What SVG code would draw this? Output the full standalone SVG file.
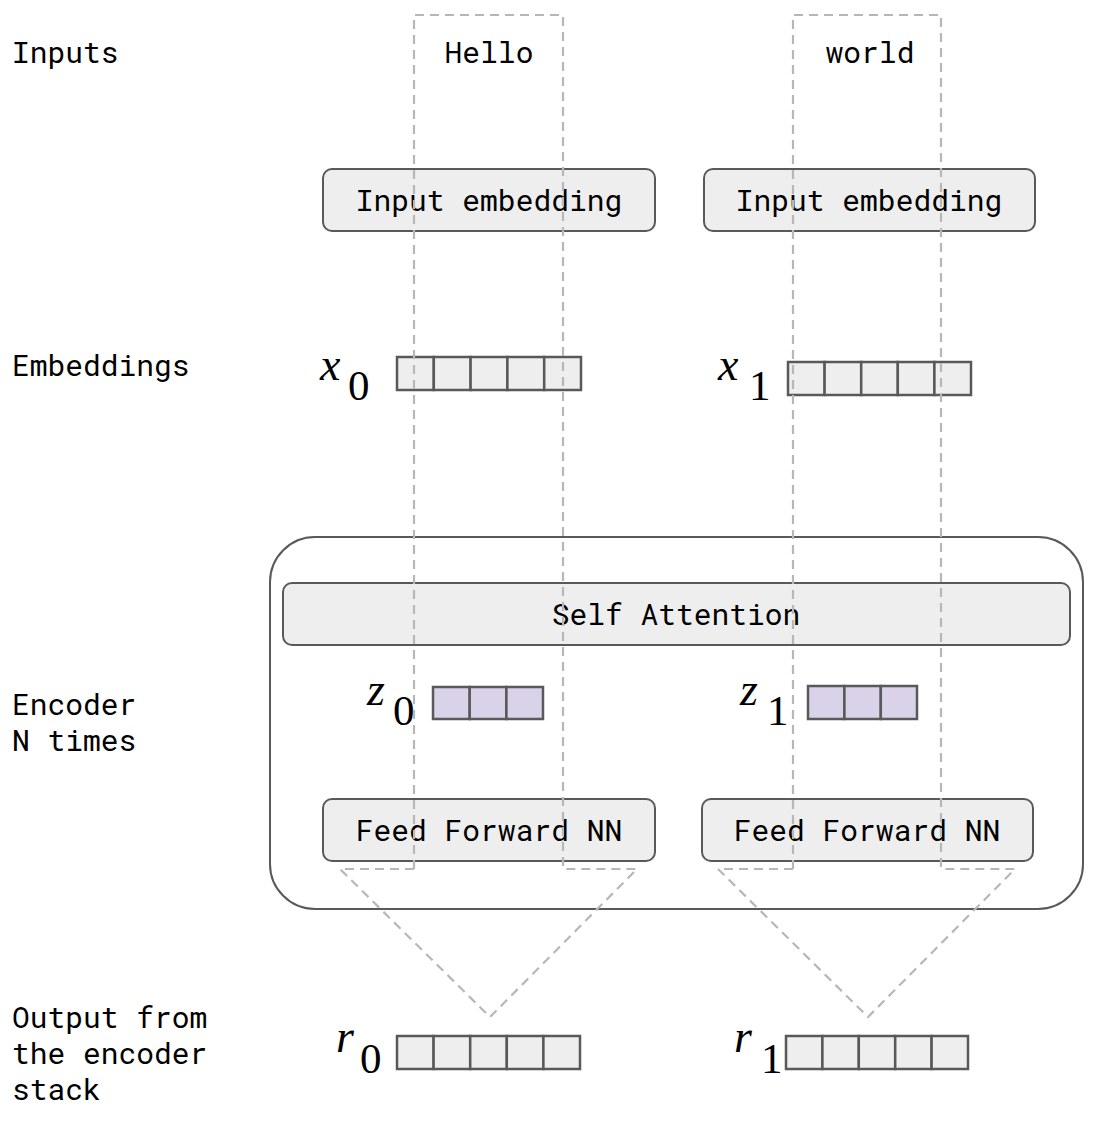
<svg xmlns="http://www.w3.org/2000/svg" width="1104" height="1136" viewBox="0 0 1104 1136">
<style>
.lbl{font-family:"Roboto Mono","DejaVu Sans Mono","Liberation Mono",monospace;font-size:29.6px;fill:#000}
.mid{text-anchor:middle}
.box{fill:#eeeeee;stroke:#595959;stroke-width:2}
.cell{fill:#eeeeee;stroke:#595959;stroke-width:2.5}
.zcell{fill:#d9d2e9;stroke:#595959;stroke-width:2.5}
.math{font-family:"Liberation Serif","Times New Roman",serif;font-size:46px;fill:#000}
.sub{font-size:43px}
.it{font-style:italic}
.dash{fill:none;stroke:#b7b7b7;stroke-width:2.2;stroke-dasharray:9 6}
</style>
<rect width="1104" height="1136" fill="#fff"/>
<g id="row-labels">
<text class="lbl" x="12" y="63">Inputs</text>
<text class="lbl" x="12" y="376">Embeddings</text>
<text class="lbl" x="12" y="715">Encoder</text>
<text class="lbl" x="12" y="751">N times</text>
<text class="lbl" x="12" y="1028">Output from</text>
<text class="lbl" x="12" y="1064">the encoder</text>
<text class="lbl" x="12" y="1100">stack</text>
</g>
<g id="input-hello"><text class="lbl mid" x="489" y="63">Hello</text></g>
<g id="input-world"><text class="lbl mid" x="870" y="63">world</text></g>
<g id="embed-0"><rect class="box" x="323" y="169" width="332" height="62" rx="9"/><text class="lbl mid" x="489" y="211">Input embedding</text></g>
<g id="embed-1"><rect class="box" x="704" y="169" width="331" height="62" rx="9"/><text class="lbl mid" x="869" y="211">Input embedding</text></g>
<g id="x0">
<text class="math it" x="320" y="380">x</text><text class="math sub" x="348" y="400">0</text>
<rect class="cell" x="397" y="357" width="36.8" height="33"/><rect class="cell" x="433.8" y="357" width="36.8" height="33"/><rect class="cell" x="470.6" y="357" width="36.8" height="33"/><rect class="cell" x="507.4" y="357" width="36.8" height="33"/><rect class="cell" x="544.2" y="357" width="36.8" height="33"/>
</g>
<g id="x1">
<text class="math it" x="718" y="380">x</text><text class="math sub" x="749" y="400">1</text>
<rect class="cell" x="788" y="362" width="36.6" height="33"/><rect class="cell" x="824.6" y="362" width="36.6" height="33"/><rect class="cell" x="861.2" y="362" width="36.6" height="33"/><rect class="cell" x="897.8" y="362" width="36.6" height="33"/><rect class="cell" x="934.4" y="362" width="36.6" height="33"/>
</g>
<g id="encoder"><rect x="270" y="537" width="813" height="372" rx="45" fill="none" stroke="#595959" stroke-width="2"/></g>
<g id="self-attention"><rect class="box" x="283" y="583" width="787" height="62" rx="9"/><text class="lbl mid" x="676" y="625">Self Attention</text></g>
<g id="z0">
<text class="math it" x="367" y="705">z</text><text class="math sub" x="393" y="725">0</text>
<rect class="zcell" x="433" y="687" width="36.7" height="32"/><rect class="zcell" x="469.7" y="687" width="36.7" height="32"/><rect class="zcell" x="506.4" y="687" width="36.6" height="32"/>
</g>
<g id="z1">
<text class="math it" x="740" y="705">z</text><text class="math sub" x="767" y="725">1</text>
<rect class="zcell" x="808" y="686" width="36.4" height="33"/><rect class="zcell" x="844.4" y="686" width="36.4" height="33"/><rect class="zcell" x="880.8" y="686" width="36.2" height="33"/>
</g>
<g id="ffnn-0"><rect class="box" x="323" y="799" width="332" height="62" rx="9"/><text class="lbl mid" x="489" y="841">Feed Forward NN</text></g>
<g id="ffnn-1"><rect class="box" x="702" y="799" width="331" height="62" rx="9"/><text class="lbl mid" x="867" y="841">Feed Forward NN</text></g>
<g id="r0">
<text class="math it" x="336" y="1052">r</text><text class="math sub" x="360" y="1073">0</text>
<rect class="cell" x="397" y="1036" width="36.6" height="33"/><rect class="cell" x="433.6" y="1036" width="36.6" height="33"/><rect class="cell" x="470.2" y="1036" width="36.6" height="33"/><rect class="cell" x="506.8" y="1036" width="36.6" height="33"/><rect class="cell" x="543.4" y="1036" width="36.6" height="33"/>
</g>
<g id="r1">
<text class="math it" x="734" y="1052">r</text><text class="math sub" x="761" y="1073">1</text>
<rect class="cell" x="786" y="1036" width="36.4" height="33"/><rect class="cell" x="822.4" y="1036" width="36.4" height="33"/><rect class="cell" x="858.8" y="1036" width="36.4" height="33"/><rect class="cell" x="895.2" y="1036" width="36.4" height="33"/><rect class="cell" x="931.6" y="1036" width="36.4" height="33"/>
</g>
<g id="connectors">
<path class="dash" d="M414 869 V15 H563 V869"/>
<path class="dash" d="M414 869 H340 L490 1017 L637 869 H563"/>
<path class="dash" d="M793 869 V15 H941 V869"/>
<path class="dash" d="M793 869 H718 L868 1017 L1015 869 H941"/>
</g>
</svg>
